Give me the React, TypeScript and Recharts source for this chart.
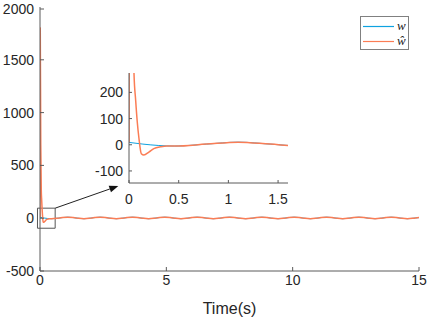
import React from 'react';
import { LineChart, Line, XAxis, YAxis, ReferenceArea, ReferenceLine } from 'recharts';

// w (true signal) sample points
const wTimes = [
  0, 0.14, 0.46, 0.78, 1.1, 1.42, 1.74, 2.06, 2.38, 2.7, 3.02, 3.34, 3.66, 3.98, 4.3, 4.62, 4.94, 5.26,
  5.58, 5.9, 6.22, 6.54, 6.86, 7.18, 7.5, 7.82, 8.14, 8.46, 8.78, 9.1, 9.42, 9.74, 10.06, 10.38, 10.7,
  11.02, 11.34, 11.66, 11.98, 12.3, 12.62, 12.94, 13.26, 13.58, 13.9, 14.22, 14.54, 14.86, 15,
];
const wValues = [
  9, 2.5, -5, 2.5, 10, 2.5, -5, 2.5, 10, 2.5, -5, 2.5, 10, 2.5, -5, 2.5, 10, 2.5,
  -5, 2.5, 10, 2.5, -5, 2.5, 10, 2.5, -5, 2.5, 10, 2.5, -5, 2.5, 10, 2.5, -5,
  2.5, 10, 2.5, -5, 2.5, 10, 2.5, -5, 2.5, 10, 2.5, -5, 2.5, 5.5,
];

// w-hat (estimate) transient, afterwards it follows w
const wHatEarlyTimes = [0, 0.01, 0.03, 0.05, 0.067, 0.083, 0.1, 0.124, 0.15, 0.2, 0.25, 0.32, 0.38];
const wHatEarlyValues = [9, 1800, 700, 275, 170, 88, 25, -34, -39, -28, -15, -8, -5];
const wHatJoinTime = 0.46;

// axes
const mainXTicks = [0, 5, 10, 15];
const mainYTicks = [-500, 0, 500, 1000, 1500, 2000];
const mainXDomain = [0, 15];
const mainYDomain = [-500, 2000];
const insetXTicks = [0, 0.5, 1, 1.5];
const insetYTicks = [-100, 0, 100, 200];
const insetXDomain = [0, 1.6];
const insetYDomain = [-146, 274];

// zoom box and arrow (data coords)
const zoomBoxX = [-0.1, 0.6];
const zoomBoxY = [-95, 95];
const arrowFrom = { x: 0.6, y: 95 };
const arrowTo = { x: 3.1, y: 305 };

const legendLabels = ['w', 'ŵ'];

const wData = wTimes.map((t, i) => ({ t, v: wValues[i] }));
const wHatData = wHatEarlyTimes
  .map((t, i) => ({ t, v: wHatEarlyValues[i] }))
  .concat(wData.filter((d) => d.t >= wHatJoinTime));

const BLUE = '#0ea2e0';
const ORANGE = '#fb7d55';
const AXIS = '#5a5a5a';
const FONT = '"Liberation Sans", Arial, Helvetica, sans-serif';
const tickText = { fontFamily: FONT, fontSize: 14, fill: '#262626' };

const makeXTick = (len: number, gap: number) => (props: any) => {
  const { x, y, payload } = props;
  return (
    <g>
      <line x1={x} x2={x} y1={y} y2={y - len} stroke={AXIS} strokeWidth={1} />
      <text x={x} y={y + gap} dy="0.71em" textAnchor="middle" {...tickText}>
        {payload.value}
      </text>
    </g>
  );
};

const makeYTick = (len: number, gap: number) => (props: any) => {
  const { x, y, payload } = props;
  return (
    <g>
      <line x1={x} x2={x + len} y1={y} y2={y} stroke={AXIS} strokeWidth={1} />
      <text x={x - gap} y={y} dy="0.36em" textAnchor="end" {...tickText}>
        {payload.value}
      </text>
    </g>
  );
};

const ArrowShape = (props: any) => {
  const { x1, y1, x2, y2 } = props;
  if ([x1, y1, x2, y2].some((v) => typeof v !== 'number' || isNaN(v))) return null;
  const dx = x2 - x1;
  const dy = y2 - y1;
  const L = Math.sqrt(dx * dx + dy * dy);
  const ux = dx / L;
  const uy = dy / L;
  const head = 9;
  const half = 3.5;
  const bx = x2 - ux * head;
  const by = y2 - uy * head;
  const p1 = `${x2},${y2}`;
  const p2 = `${bx - uy * half},${by + ux * half}`;
  const p3 = `${bx + uy * half},${by - ux * half}`;
  return (
    <g>
      <line x1={x1} y1={y1} x2={bx} y2={by} stroke="#222" strokeWidth={1} />
      <polygon points={`${p1} ${p2} ${p3}`} fill="#111" />
    </g>
  );
};

export default function App() {
  return (
    <div style={{ position: 'absolute', left: 0, top: 0, width: 429, height: 319, background: '#fff' }}>
      <LineChart width={429} height={319} margin={{ top: 7, right: 10, bottom: 0, left: 0 }}>
        <XAxis
          dataKey="t"
          type="number"
          domain={mainXDomain}
          ticks={mainXTicks}
          height={48}
          tickSize={0}
          tickMargin={0}
          tickLine={false}
          axisLine={{ stroke: AXIS }}
          tick={makeXTick(4, 4)}
          allowDataOverflow
          label={{
            value: 'Time(s)',
            position: 'insideBottom',
            offset: 5,
            fontFamily: FONT,
            fontSize: 16,
            fill: '#262626',
          }}
        />
        <YAxis
          type="number"
          domain={mainYDomain}
          ticks={mainYTicks}
          width={40}
          tickSize={0}
          tickMargin={0}
          tickLine={false}
          axisLine={{ stroke: AXIS }}
          tick={makeYTick(4, 6)}
          allowDataOverflow
        />
        <Line
          data={wData}
          dataKey="v"
          type="monotone"
          stroke={BLUE}
          strokeWidth={1}
          dot={false}
          isAnimationActive={false}
        />
        <Line
          data={wHatData}
          dataKey="v"
          type="monotone"
          stroke={ORANGE}
          strokeWidth={1.5}
          dot={false}
          isAnimationActive={false}
        />
        <ReferenceArea
          x1={zoomBoxX[0]}
          x2={zoomBoxX[1]}
          y1={zoomBoxY[0]}
          y2={zoomBoxY[1]}
          ifOverflow="visible"
          fill="none"
          fillOpacity={0}
          stroke="#555"
          strokeWidth={1}
        />
        <ReferenceLine
          segment={[arrowFrom, arrowTo]}
          ifOverflow="visible"
          stroke="#222"
          shape={ArrowShape}
        />
      </LineChart>

      <div style={{ position: 'absolute', left: 88, top: 65 }}>
        <LineChart width={210} height={150} margin={{ top: 8, right: 10, bottom: 0, left: 0 }}>
          <XAxis
            dataKey="t"
            type="number"
            domain={insetXDomain}
            ticks={insetXTicks}
            height={32}
            tickSize={0}
            tickMargin={0}
            tickLine={false}
            axisLine={{ stroke: AXIS }}
            tick={makeXTick(3, 11)}
            allowDataOverflow
          />
          <YAxis
            type="number"
            domain={insetYDomain}
            ticks={insetYTicks}
            width={41}
            tickSize={0}
            tickMargin={0}
            tickLine={false}
            axisLine={{ stroke: AXIS }}
            tick={makeYTick(3, 6)}
            allowDataOverflow
          />
          <Line
            data={wData}
            dataKey="v"
            type="monotone"
            stroke={BLUE}
            strokeWidth={1}
            dot={false}
            isAnimationActive={false}
          />
          <Line
            data={wHatData}
            dataKey="v"
            type="monotone"
            stroke={ORANGE}
            strokeWidth={1.5}
            dot={false}
            isAnimationActive={false}
          />
        </LineChart>
      </div>

      <svg width={50} height={35} style={{ position: 'absolute', left: 360, top: 16 }}>
        <rect x={0.5} y={0.5} width={48} height={33} fill="#fff" stroke="#808080" strokeWidth={1} />
        <line x1={3} x2={34} y1={10.5} y2={10.5} stroke={BLUE} strokeWidth={1.2} />
        <line x1={3} x2={34} y1={25.5} y2={25.5} stroke={ORANGE} strokeWidth={1.2} />
        <text x={37} y={13.5} fontFamily='"Liberation Serif", "DejaVu Serif", serif' fontStyle="italic" fontSize={13} fill="#222">
          {legendLabels[0]}
        </text>
        <text x={37} y={28.5} fontFamily='"Liberation Serif", "DejaVu Serif", serif' fontStyle="italic" fontSize={13} fill="#222">
          {legendLabels[1]}
        </text>
      </svg>
    </div>
  );
}
